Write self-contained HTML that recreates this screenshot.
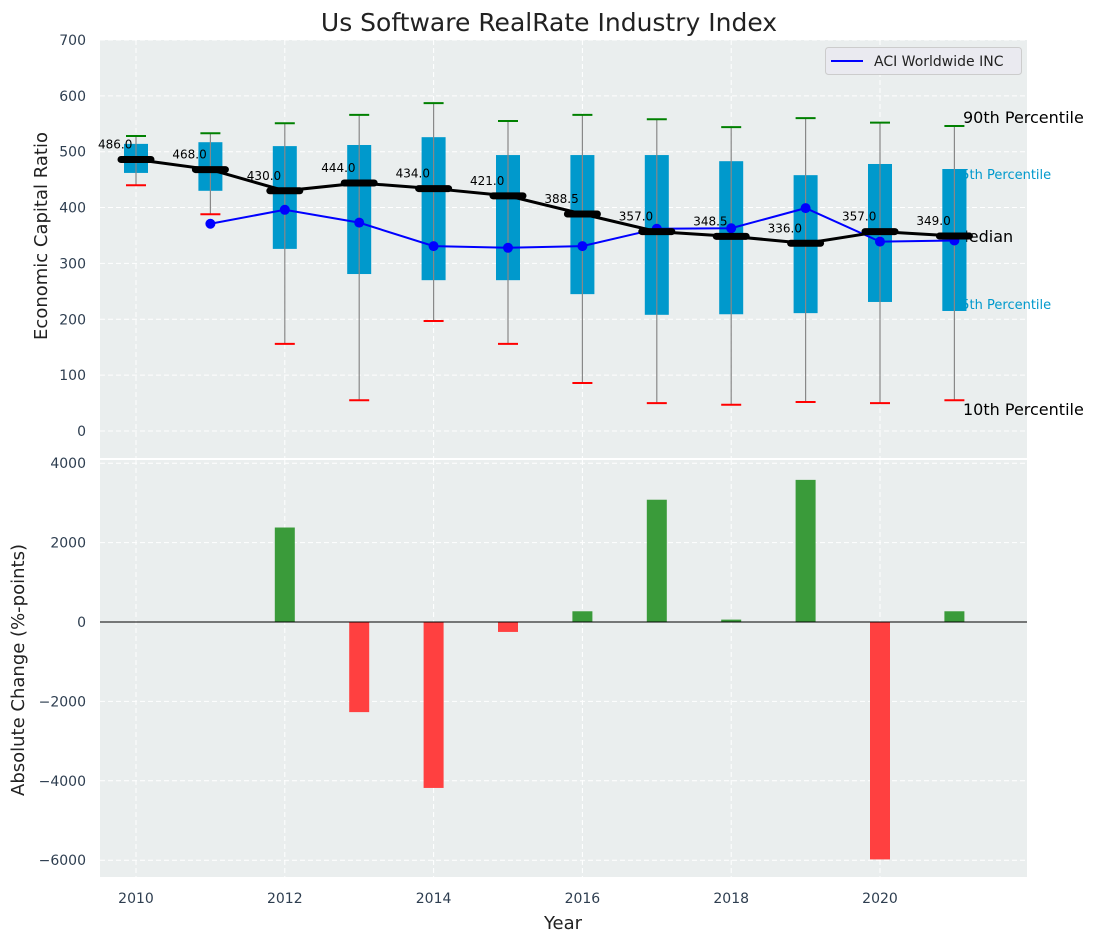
<!DOCTYPE html>
<html><head><meta charset="utf-8"><style>
body{margin:0;background:#fff;font-family:"Liberation Sans","DejaVu Sans",sans-serif}
svg text{font-family:"DejaVu Sans","Liberation Sans",sans-serif}
</style></head><body>
<svg id="c" width="1098" height="942" xmlns="http://www.w3.org/2000/svg"></svg>
<script>
const years=[2010,2011,2012,2013,2014,2015,2016,2017,2018,2019,2020,2021];
const p90=[528,533,551,566,587,555,566,558,544,560,552,546];
const p75=[514,517,510,512,526,494,494,494,483,458,478,469];
const med=[486,468,430,444,434,421,388.5,357,348.5,336,357,349];
const p25=[462,430,326,281,270,270,245,208,209,211,231,215];
const p10=[440,388,156,55,197,156,86,50,47,52,50,55];
const company=[null,371,396,373,331,328,331,362,363,399,339,341];
const changes=[null,null,2380,-2270,-4180,-250,270,3080,60,3580,-5980,270];
const yTicks1=[0,100,200,300,400,500,600,700];
const yTicks2=[-6000,-4000,-2000,0,2000,4000];
const xTicks=[2010,2012,2014,2016,2018,2020];

const svg=document.getElementById('c');const NS='http://www.w3.org/2000/svg';
function el(t,a,txt){const e=document.createElementNS(NS,t);for(const k in a)e.setAttribute(k,a[k]);if(txt!==undefined)e.textContent=txt;svg.appendChild(e);return e;}
const X=v=>136+(v-2010)*74.4;
const Y1=v=>431-v*0.5586;
const Y2=v=>622-v*0.0397;
const L=100,R=1027;

let e;
e=el('rect',{x:L,y:40,width:R-L,height:418,fill:'#eaeeee'});

e=el('rect',{x:L,y:460,width:R-L,height:417,fill:'#eaeeee'});

xTicks.forEach(t=>{
 el('line',{x1:X(t),x2:X(t),y1:40,y2:458,stroke:'#fff','stroke-dasharray':'5,3'});
 el('line',{x1:X(t),x2:X(t),y1:460,y2:877,stroke:'#fff','stroke-dasharray':'5,3'});
 e=el('text',{x:X(t),y:903,'text-anchor':'middle','font-size':14,fill:'#2e3e50'},t);
 
});
yTicks1.forEach(t=>{
 el('line',{x1:L,x2:R,y1:Y1(t),y2:Y1(t),stroke:'#fff','stroke-dasharray':'5,3'});
 e=el('text',{x:86,y:Y1(t)+5,'text-anchor':'end','font-size':14,fill:'#2e3e50'},t);
 
});
yTicks2.forEach(t=>{
 el('line',{x1:L,x2:R,y1:Y2(t),y2:Y2(t),stroke:'#fff','stroke-dasharray':'5,3'});
 e=el('text',{x:86,y:Y2(t)+5,'text-anchor':'end','font-size':14,fill:'#2e3e50'},String(t).replace('-','−'));
 
});
years.forEach((yr,i)=>{
 const x=X(yr);
 e=el('rect',{x:x-12,y:Y1(p75[i]),width:24,height:Y1(p25[i])-Y1(p75[i]),fill:'#0099cc'});
 
});
el('text',{x:963,y:123,'font-size':16,fill:'#000'},'90th Percentile');
el('text',{x:953,y:179,'font-size':13,fill:'#0099cc'},'75th Percentile');
el('text',{x:953,y:309,'font-size':13,fill:'#0099cc'},'25th Percentile');
el('text',{x:955,y:242,'font-size':16,fill:'#000'},'Median');
el('text',{x:963,y:415,'font-size':16,fill:'#000'},'10th Percentile');
const li=years.length-1;
el('rect',{x:X(years[li])-12,y:Y1(p75[li]),width:24,height:Y1(p25[li])-Y1(p75[li]),fill:'#0099cc'});
years.forEach((yr,i)=>{
 const x=X(yr);
 el('line',{x1:x,x2:x,y1:Y1(p90[i]),y2:Y1(p10[i]),stroke:'#888','stroke-width':1.2});
 e=el('line',{x1:x-10,x2:x+10,y1:Y1(p90[i]),y2:Y1(p90[i]),stroke:'#008000','stroke-width':2});
 
 e=el('line',{x1:x-10,x2:x+10,y1:Y1(p10[i]),y2:Y1(p10[i]),stroke:'#ff0000','stroke-width':2});
 
});
let pts=[];years.forEach((yr,i)=>{if(company[i]!=null)pts.push(X(yr)+','+Y1(company[i]));});
e=el('polyline',{points:pts.join(' '),fill:'none',stroke:'#0000ff','stroke-width':2});

years.forEach((yr,i)=>{if(company[i]!=null){e=el('circle',{cx:X(yr),cy:Y1(company[i]),r:5,fill:'#0000ff'});
 }});
e=el('polyline',{points:years.map((yr,i)=>X(yr)+','+Y1(med[i])).join(' '),fill:'none',stroke:'#000','stroke-width':3});

years.forEach((yr,i)=>{
 const x=X(yr),y=Y1(med[i]);
 e=el('line',{x1:x-15,x2:x+15,y1:y,y2:y,stroke:'#000','stroke-width':7,'stroke-linecap':'round'});
 
 e=el('text',{x:x-38,y:y-11,'font-size':12,fill:'#000'},med[i].toFixed(1));
 
});
e=el('rect',{x:825.5,y:47.5,width:196,height:27,rx:3,fill:'#eaeaf0',stroke:'#ccc'});

el('line',{x1:831,x2:863,y1:61,y2:61,stroke:'#0000ff','stroke-width':2});
el('text',{x:874,y:66,'font-size':14,fill:'#222'},'ACI Worldwide INC');
years.forEach((yr,i)=>{
 if(changes[i]==null)return;const v=changes[i];
 e=el('rect',{x:X(yr)-10,y:Math.min(Y2(v),Y2(0)),width:20,height:Math.abs(Y2(v)-Y2(0)),fill:v>=0?'#3a9b3a':'#ff4040'});
 
});
el('line',{x1:L,x2:R,y1:Y2(0),y2:Y2(0),stroke:'#000','stroke-width':1});
e=el('text',{x:549,y:31,'text-anchor':'middle','font-size':25,fill:'#222'},'Us Software RealRate Industry Index');

e=el('text',{x:0,y:0,'text-anchor':'middle','font-size':18,fill:'#222',transform:'translate(47,236) rotate(-90)'},'Economic Capital Ratio');

e=el('text',{x:0,y:0,'text-anchor':'middle','font-size':18,fill:'#222',transform:'translate(24,670) rotate(-90)'},'Absolute Change (%-points)');

e=el('text',{x:563,y:929,'text-anchor':'middle','font-size':18,fill:'#222'},'Year');

</script>
</body></html>
